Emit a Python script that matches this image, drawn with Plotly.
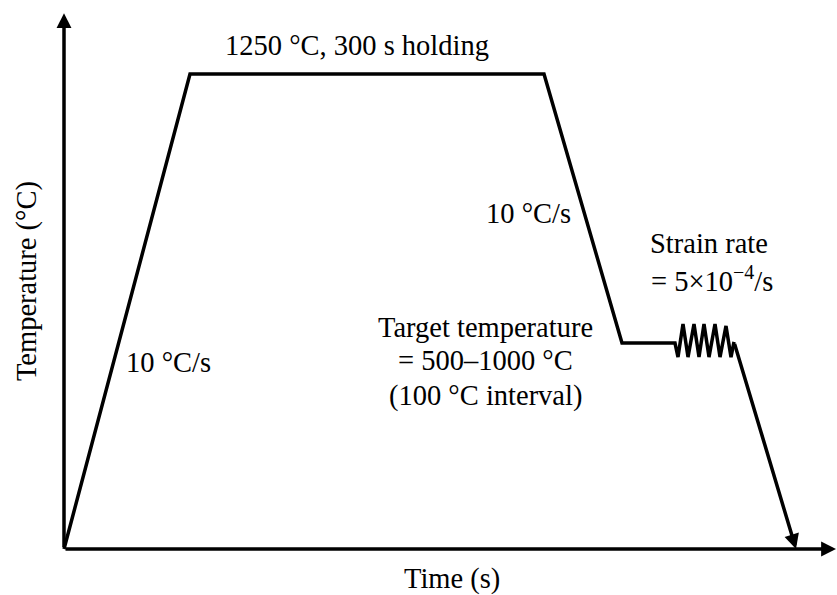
import plotly.graph_objects as go

# Schematic thermal cycle (time in s, temperature in °C)
time_s = [0, 126, 480, 558, 611, 614, 619, 624, 630, 635, 640, 645, 651, 656, 662, 667, 670, 732]
temp_C = [0, 1250, 1250, 542, 542, 505, 592, 505, 592, 505, 592, 505, 592, 505, 587, 505, 545, 0]

# Axis extents (arrow tips)
time_axis_end = 772
temp_axis_end = 1410

# Plot ranges
x_range = [-64, 773]
y_range = [-121.05, 1444.74]

FONT = "Liberation Serif, Times New Roman, serif"
FS = 28.5
INK = "#000000"

# Text labels
labels_text = [
    "1250 °C, 300 s holding",
    "10 °C/s",
    "10 °C/s",
    "Target temperature",
    "= 500–1000 °C",
    "(100 °C interval)",
    "Strain rate",
    "= 5×10<sup>−4</sup>/s",
    "Temperature (°C)",
    "Time (s)",
]
labels_t = [293, 104, 464, 421, 421, 421, 645, 648, -37, 388]
labels_T = [1326, 492, 884, 584, 495, 403, 803, 711, 705, -79]
labels_angle = [0, 0, 0, 0, 0, 0, 0, 0, -90, 0]

fig = go.Figure()

# Path (all but last segment, which is drawn as an arrow)
fig.add_trace(go.Scatter(
    x=time_s[:-1], y=temp_C[:-1], mode="lines",
    line=dict(color=INK, width=3.5), hoverinfo="skip", showlegend=False,
))

annotations = []

def arrow(x0, y0, x1, y1):
    return dict(
        x=x1, y=y1, ax=x0, ay=y0, xref="x", yref="y", axref="x", ayref="y",
        text=" ", showarrow=True, arrowhead=2, arrowsize=0.85, arrowwidth=3.5,
        arrowcolor=INK, standoff=0, startstandoff=0,
        font=dict(size=1),
    )

# Final cooling segment with arrowhead
annotations.append(arrow(time_s[-2], temp_C[-2], time_s[-1], temp_C[-1]))
# Axes as arrows
annotations.append(arrow(0, 0, 0, temp_axis_end))
annotations.append(arrow(0, 0, time_axis_end, 0))

for txt, t, T, ang in zip(labels_text, labels_t, labels_T, labels_angle):
    annotations.append(dict(
        x=t, y=T, xref="x", yref="y", text=txt, showarrow=False,
        textangle=ang, xanchor="center", yanchor="middle",
        font=dict(family=FONT, size=FS, color=INK),
    ))

fig.update_layout(
    width=837, height=595,
    margin=dict(l=0, r=0, t=0, b=0),
    paper_bgcolor="white", plot_bgcolor="white",
    xaxis=dict(range=x_range, visible=False, fixedrange=True),
    yaxis=dict(range=y_range, visible=False, fixedrange=True),
    annotations=annotations,
    showlegend=False,
)

fig.write_html(
    "out.html",
    config={"displayModeBar": False},
    post_script="document.body.style.margin='0';document.body.style.overflow='hidden';",
)
